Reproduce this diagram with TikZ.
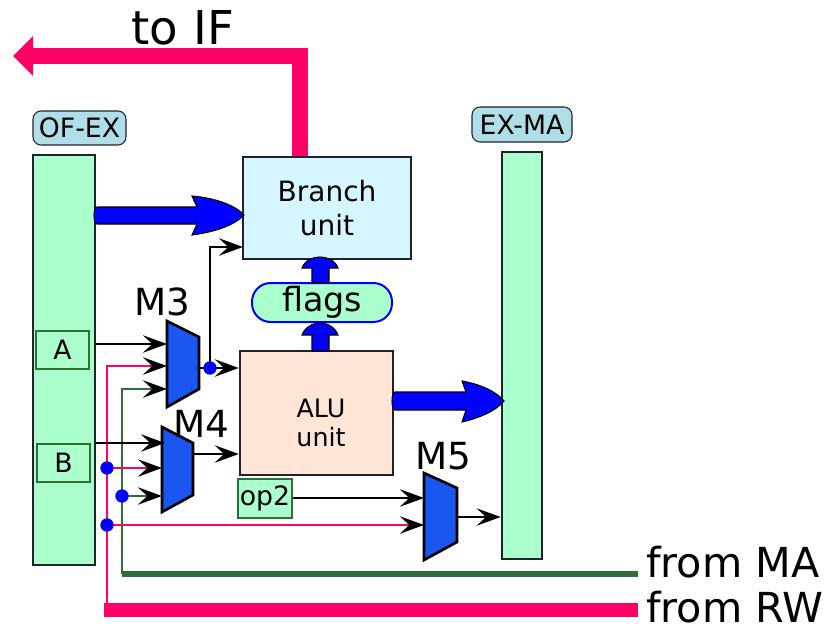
\documentclass[tikz,border=0pt]{standalone}
\usepackage{fontspec}
\setmainfont{DejaVu Sans}
\usetikzlibrary{arrows.meta,calc}
\definecolor{mint}{HTML}{AAFFCC}
\definecolor{lblblue}{HTML}{B0DEE8}
\definecolor{brfill}{HTML}{D5F5FF}
\definecolor{alufill}{HTML}{FFE5D5}
\definecolor{muxblue}{HTML}{1A56F0}
\definecolor{hotred}{HTML}{FF0066}
\definecolor{dgreen}{HTML}{2D7037}
\definecolor{edgec}{HTML}{22222E}
\begin{document}
\begin{tikzpicture}[x=0.75pt,y=-0.75pt,
  reg/.style={draw=edgec,line width=2pt,fill=mint,inner sep=0pt},
  lbl/.style={draw=edgec,line width=0.8pt,fill=lblblue,rounded corners=6pt,inner sep=0pt,font=\fontsize{20}{24}\selectfont},
  unitbox/.style={draw=edgec,line width=1.8pt,inner sep=0pt,align=center},
  field/.style={draw=dgreen,line width=1.6pt,fill=mint,inner sep=0pt,font=\fontsize{20}{22}\selectfont},
  mux/.style={draw=black,line width=2pt,fill=muxblue,line join=miter},
  tip/.style={-{Stealth[length=18pt,width=13pt,inset=7pt,color=black]}},
  wire/.style={black,line width=2pt,tip},
  redw/.style={hotred,line width=2.2pt},
  greenw/.style={dgreen,line width=2.2pt},
  dot/.style={circle,fill=blue,inner sep=0pt,minimum size=10pt},
  fat/.style={fill=blue,draw=black,line width=0.8pt},
  big/.style={font=\fontsize{28}{30}\selectfont},
  farlbl/.style={anchor=west,inner xsep=6pt,inner ysep=0pt,font=\fontsize{31}{33}\selectfont},
]
\useasboundingbox (0,0) rectangle (827,631);

% registers and labels
\node[reg,minimum width=46.5pt,minimum height=307.5pt] (ofex) at (64,360) {};
\node[lbl,minimum width=69.75pt,minimum height=25.5pt] (ofexlbl) at (79.5,128) {OF-EX};
\node[reg,minimum width=30pt,minimum height=305.25pt] (exma) at (522,355.5) {};
\node[lbl,minimum width=75pt,minimum height=26.25pt] (exmalbl) at (522,124.5) {EX-MA};

% fields
\node[field,minimum width=39.75pt,minimum height=28.5pt] (A) at (62.5,350) {A};
\node[field,minimum width=39.75pt,minimum height=28.5pt] (B) at (63.5,463) {B};
\node[field,minimum width=40.5pt,minimum height=29.25pt] (op2) at (265,498.5) {op2};

% units
\node[unitbox,fill=brfill,minimum width=126pt,minimum height=76.5pt,font=\fontsize{21}{25}\selectfont] (branch) at (327,208) {Branch\\unit};
\node[unitbox,fill=alufill,minimum width=114.75pt,minimum height=93pt] (alu) at (316.5,413) {};
\node[align=center,font=\fontsize{19}{22}\selectfont,inner sep=0pt] (alutext) at (321,423) {ALU\\unit};
\node[draw=blue,line width=1.5pt,fill=mint,rounded corners=14pt,minimum width=105pt,minimum height=29.25pt,inner sep=0pt,font=\fontsize{25}{28}\selectfont] (flags) at (322,302.5) {flags};

% to IF
\coordinate (ifcorner) at (300,56);
\coordinate (ifend) at (13,56);
\draw[hotred,line width=12pt,line join=miter,-{Triangle[length=15pt,width=29pt]}] (branch.north -| ifcorner) -- (ifcorner) -- (ifend);
\node[font=\fontsize{35}{38}\selectfont,inner sep=0pt] (toif) at (183,28) {to\,\,IF};

% fat blue arrows
\draw[fat] (97,207) -- (197,207) .. controls (195,202) .. (192,196)
  .. controls (215,198) and (235,205) .. (244,215)
  .. controls (235,225) and (215,232) .. (192,235)
  .. controls (195,229) .. (197,224) -- (97,224) .. controls (93,224) and (93,207) .. cycle;
\draw[fat] (395,392) -- (466,392) .. controls (464,387) .. (462,381)
  .. controls (480,384) and (497,392) .. (504,401)
  .. controls (497,410) and (480,418) .. (462,422)
  .. controls (464,416) .. (466,410) -- (395,410) .. controls (391,410) and (391,392) .. cycle;
\draw[fat] (312,351) -- (312,335) -- (302,335) .. controls (305,327) and (313,323) .. (320,323)
  .. controls (327,323) and (335,327) .. (338,335) -- (329,335) -- (329,351) -- cycle;
\draw[fat] (312,283) -- (312,268) -- (302,268) .. controls (305,260) and (313,257) .. (320,257)
  .. controls (327,257) and (335,260) .. (338,268) -- (329,268) -- (329,283) -- cycle;

% muxes
\draw[mux] (167,321) -- (199,337) -- (199,389) -- (167,407) -- cycle;
\draw[mux] (162,427) -- (193,443) -- (193,495) -- (162,512) -- cycle;
\draw[mux] (424,473) -- (457,488) -- (457,542) -- (424,560) -- cycle;
\node[big,inner sep=0pt] (m3lbl) at (162,302) {M3};
\node[big,inner sep=0pt] (m4lbl) at (201,424) {M4};
\node[big,inner sep=0pt] (m5lbl) at (443,456) {M5};

\coordinate (m3a) at (167,344);
\coordinate (m3b) at (167,366);
\coordinate (m3c) at (167,389);
\coordinate (m3out) at (197,368);
\coordinate (m4a) at (165,443);
\coordinate (m4b) at (162,468);
\coordinate (m4c) at (162,496);
\coordinate (m4out) at (193,454);
\coordinate (m5a) at (424,498);
\coordinate (m5b) at (424,525);
\coordinate (m5out) at (457,517);
\coordinate (d1) at (210,368);
\coordinate (brin) at (243,247);
\coordinate (dr1) at (107,468);
\coordinate (dg) at (122,496);
\coordinate (dr2) at (107,525);
\coordinate (rx) at (107,610);
\coordinate (gx) at (122,574);
\coordinate (rwstart) at (104,610);

% from MA / from RW
\node[farlbl] (fromma) at (638,562) {from MA};
\node[farlbl] (fromrw) at (638,607) {from RW};
\draw[dgreen,line width=4.5pt] (gx) -- (fromma.west |- gx);
\draw[hotred,line width=11pt] (rwstart) -- (fromrw.west |- rwstart);

% wires
\draw[redw,tip] (rx) |- (m3b);
\draw[greenw,tip] (gx) |- (m3c);
\draw[redw,tip] (dr1) -- (m4b);
\draw[greenw,tip] (dg) -- (m4c);
\draw[redw,tip] (dr2) -- (m5b);
\draw[wire] (ofex.east |- m3a) -- (m3a);
\draw[wire] (ofex.east |- m4a) -- (m4a);
\draw[wire] (m3out) -- (alu.west |- m3out);
\draw[wire] (d1) |- (brin);
\draw[wire] (m4out) -- (alu.west |- m4out);
\draw[wire] (op2.east |- m5a) -- (m5a);
\draw[wire] (m5out) -- (exma.west |- m5out);

% dots
\node[dot] at (d1) {};
\node[dot] at (dr1) {};
\node[dot] at (dg) {};
\node[dot] at (dr2) {};
\end{tikzpicture}
\end{document}
